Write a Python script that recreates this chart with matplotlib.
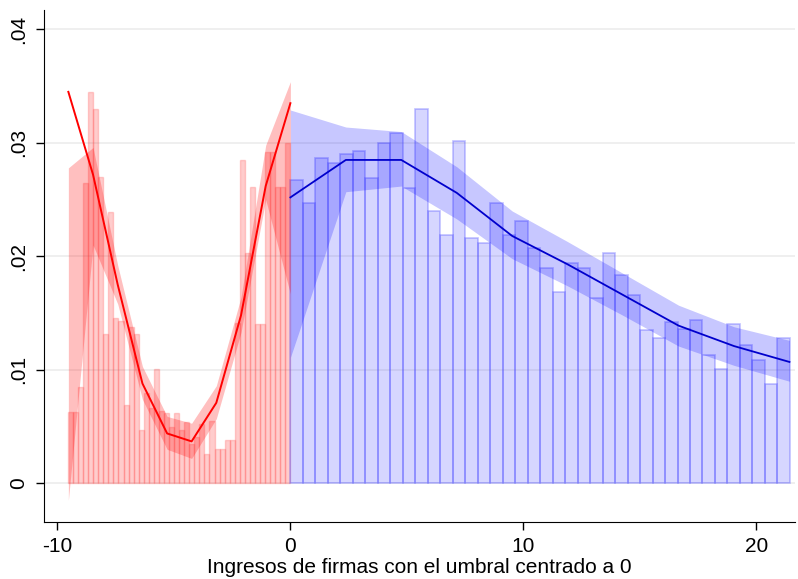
import numpy as np
import matplotlib
matplotlib.use("Agg")
import matplotlib.pyplot as plt

plt.rcParams['font.family'] = ['Liberation Sans', 'DejaVu Sans']
plt.rcParams['axes.unicode_minus'] = False

# histograma izquierdo (rojo), 44 barras desde -9.55 hasta 0
red_left = -9.55
red_heights = [0.0063, 0.0063, 0.0085, 0.0265, 0.0345, 0.0330, 0.0270, 0.0132,
               0.0239, 0.0146, 0.0143, 0.0069, 0.0138, 0.0132, 0.0047, 0.0080,
               0.0066, 0.0101, 0.0064, 0.0062, 0.0050, 0.0062, 0.0047, 0.0054,
               0.0035, 0.0041, 0.0052, 0.0026, 0.0055, 0.0030, 0.0030, 0.0038,
               0.0038, 0.0141, 0.0285, 0.0203, 0.0261, 0.0140, 0.0140, 0.0292,
               0.0292, 0.0261, 0.0261, 0.0300]

# histograma derecho (azul), 40 barras desde 0
blue_width = 0.536
blue_heights = [0.0267, 0.0247, 0.0287, 0.0282, 0.0290, 0.0293, 0.0269, 0.0300,
                0.0309, 0.0260, 0.0330, 0.0240, 0.0219, 0.0302, 0.0216, 0.0212,
                0.0247, 0.0219, 0.0231, 0.0207, 0.0190, 0.0169, 0.0194, 0.0190,
                0.0163, 0.0203, 0.0184, 0.0166, 0.0135, 0.0128, 0.0142, 0.0136,
                0.0144, 0.0113, 0.0101, 0.0140, 0.0122, 0.0109, 0.0088, 0.0128]

# densidad estimada e intervalos
red_x = [-9.53, -8.47, -7.41, -6.35, -5.29, -4.24, -3.18, -2.12, -1.06, 0.0]
red_f = [0.0345, 0.0272, 0.0175, 0.0088, 0.0044, 0.0037, 0.0071, 0.0148, 0.0262, 0.0335]
red_lo = [-0.0015, 0.0210, 0.0158, 0.0074, 0.0030, 0.0022, 0.0057, 0.0133, 0.0250, 0.0167]
red_hi = [0.0278, 0.0296, 0.0192, 0.0103, 0.0059, 0.0053, 0.0086, 0.0164, 0.0298, 0.0354]

blue_x = [0.0, 2.38, 4.76, 7.14, 9.52, 11.9, 14.28, 16.66, 19.04, 21.42]
blue_f = [0.0252, 0.0285, 0.0285, 0.0256, 0.0218, 0.0193, 0.0166, 0.0139, 0.0121, 0.0107]
blue_lo = [0.0111, 0.0257, 0.0262, 0.0233, 0.0198, 0.0174, 0.0148, 0.0121, 0.0104, 0.0090]
blue_hi = [0.0329, 0.0314, 0.0310, 0.0279, 0.0240, 0.0213, 0.0185, 0.0157, 0.0138, 0.0126]

yticks = [0, 0.01, 0.02, 0.03, 0.04]
ylabels = ['0', '.01', '.02', '.03', '.04']
xticks = [-10, 0, 10, 20]

fig = plt.figure(figsize=(7.98, 5.79), dpi=100)
ax = fig.add_axes([0.055, 0.0985, 0.941, 0.884])

for y in yticks:
    ax.axhline(y, color='#ececec', lw=1.2, zorder=0)

red_w = -red_left / len(red_heights)
red_edges = red_left + red_w * np.arange(len(red_heights))
ax.bar(red_edges, red_heights, width=red_w, align='edge',
       facecolor=(1, 0, 0, 0.2), edgecolor=(1, 0.3, 0.3, 0.25), lw=1, zorder=1)

blue_edges = blue_width * np.arange(len(blue_heights))
ax.bar(blue_edges, blue_heights, width=blue_width, align='edge',
       facecolor=(0.2, 0.2, 1, 0.2), edgecolor=(0.3, 0.3, 1, 0.35), lw=1.2, zorder=1)

ax.fill_between(red_x, red_lo, red_hi, color='red', alpha=0.25, lw=0, zorder=2)
ax.fill_between(blue_x, blue_lo, blue_hi, color='blue', alpha=0.22, lw=0, zorder=2)

ax.plot(red_x, red_f, color='red', lw=1.4, zorder=3)
ax.plot(blue_x, blue_f, color='#0000cc', lw=1.3, zorder=3)

ax.set_xlim(-10.58, 21.65)
ax.set_ylim(-0.0034, 0.0417)
ax.set_yticks(yticks)
ax.set_yticklabels(ylabels, rotation=90, va='center')
ax.set_xticks(xticks)
ax.tick_params(labelsize=15, length=6, width=1, direction='out', pad=5)
for sp in ['top', 'right']:
    ax.spines[sp].set_visible(False)
ax.set_xlabel('Ingresos de firmas con el umbral centrado a 0', fontsize=15, labelpad=1)

fig.savefig('out.png', dpi=100)
